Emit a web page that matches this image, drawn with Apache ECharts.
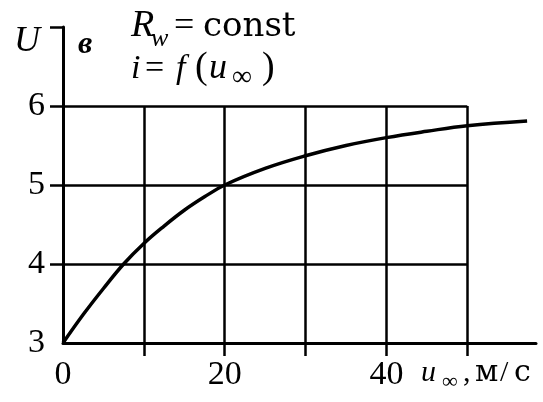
<!DOCTYPE html>
<html>
<head>
<meta charset="utf-8">
<script src="https://cdn.jsdelivr.net/npm/echarts@6/dist/echarts.min.js"></script>
<style>
  html, body { margin: 0; padding: 0; background: #fff; }
  #chart { width: 543px; height: 402px; }
</style>
</head>
<body>
<div id="chart"></div>
<script>
// u_inf, m/s  ->  U, V
const speed   = [0, 2.5, 5, 7.5, 10, 12.5, 15, 17.5, 20, 25, 30, 35, 40, 45, 50, 57.4];
const voltage = [3, 3.36, 3.69, 4.0, 4.26, 4.48, 4.68, 4.85, 5.0, 5.21, 5.37, 5.5, 5.6, 5.68, 5.75, 5.81];

const xTickValues = [10, 20, 30, 40, 50];
const xLabelValues = [0, 20, 40];
const yTickValues = [4, 5, 6, 7];
const yLabelValues = [3, 4, 5, 6];
const gridRows = [4, 5, 6];
const gridCols = [10, 20, 30, 40, 50];

const serif = '"Liberation Serif", "Times New Roman", serif';
const wide = '"DejaVu Serif", serif';

// text placed by baseline
function txt(text, x, baseline, size, style, family) {
    return {
        type: 'text',
        x: x,
        y: baseline - 0.82 * size,
        style: {
            text: text,
            font: (style || '') + ' ' + size + 'px ' + (family || serif),
            fill: '#000'
        }
    };
}

const chartDom = document.getElementById('chart');
const myChart = echarts.init(chartDom);

const gridLines = gridRows.map(v => [{ coord: [0, v] }, { coord: [50, v] }])
    .concat(gridCols.map(v => [{ coord: [v, 3] }, { coord: [v, 6] }]));

const option = {
    animation: false,
    backgroundColor: '#fff',
    grid: { left: 63, right: 7, top: 27, bottom: 59 },
    xAxis: {
        type: 'value',
        min: 0,
        max: 58.5,
        axisLine: { show: true, onZero: false, lineStyle: { color: '#000', width: 3 } },
        axisTick: { show: true, customValues: xTickValues, length: 13, lineStyle: { color: '#000', width: 2.5 } },
        axisLabel: {
            customValues: xLabelValues,
            color: '#000', fontFamily: serif, fontSize: 34, margin: 15
        },
        splitLine: { show: false }
    },
    yAxis: {
        type: 'value',
        min: 3,
        max: 7,
        axisLine: { show: true, onZero: false, lineStyle: { color: '#000', width: 3 } },
        axisTick: { show: true, customValues: yTickValues, length: 13, lineStyle: { color: '#000', width: 2.5 } },
        axisLabel: {
            customValues: yLabelValues,
            color: '#000', fontFamily: serif, fontSize: 34, margin: 18
        },
        splitLine: { show: false }
    },
    series: [
        {
            type: 'line',
            data: speed.map((x, i) => [x, voltage[i]]),
            smooth: 0.4,
            symbol: 'none',
            lineStyle: { color: '#000', width: 3.5 },
            markLine: {
                silent: true,
                symbol: ['none', 'none'],
                label: { show: false },
                lineStyle: { color: '#000', width: 2.5, type: 'solid' },
                data: gridLines
            }
        }
    ],
    graphic: [
        txt('U', 14, 53, 36, 'italic'),
        txt('в', 78, 55, 32, 'italic bold'),
        txt('R', 131, 38, 38, 'italic'),
        txt('w', 151, 47, 26, 'italic'),
        txt('=', 174, 38, 36),
        txt('const', 203, 38, 34, '', wide),
        txt('i', 131, 80, 34, 'italic'),
        txt('=', 145, 80, 34),
        txt('f', 176, 80, 34, 'italic'),
        txt('(', 195, 80, 38),
        txt('u', 209, 80, 36, 'italic'),
        txt('∞', 232, 87, 28),
        txt(')', 262, 80, 38),
        txt('u', 421, 383, 30, 'italic'),
        txt('∞', 442, 389, 22),
        txt(',', 463, 383, 30),
        txt('м', 475, 383, 30, '', wide),
        txt('/', 500, 383, 30),
        txt('с', 514, 383, 30, '', wide)
    ]
};

option && myChart.setOption(option);
</script>
</body>
</html>
